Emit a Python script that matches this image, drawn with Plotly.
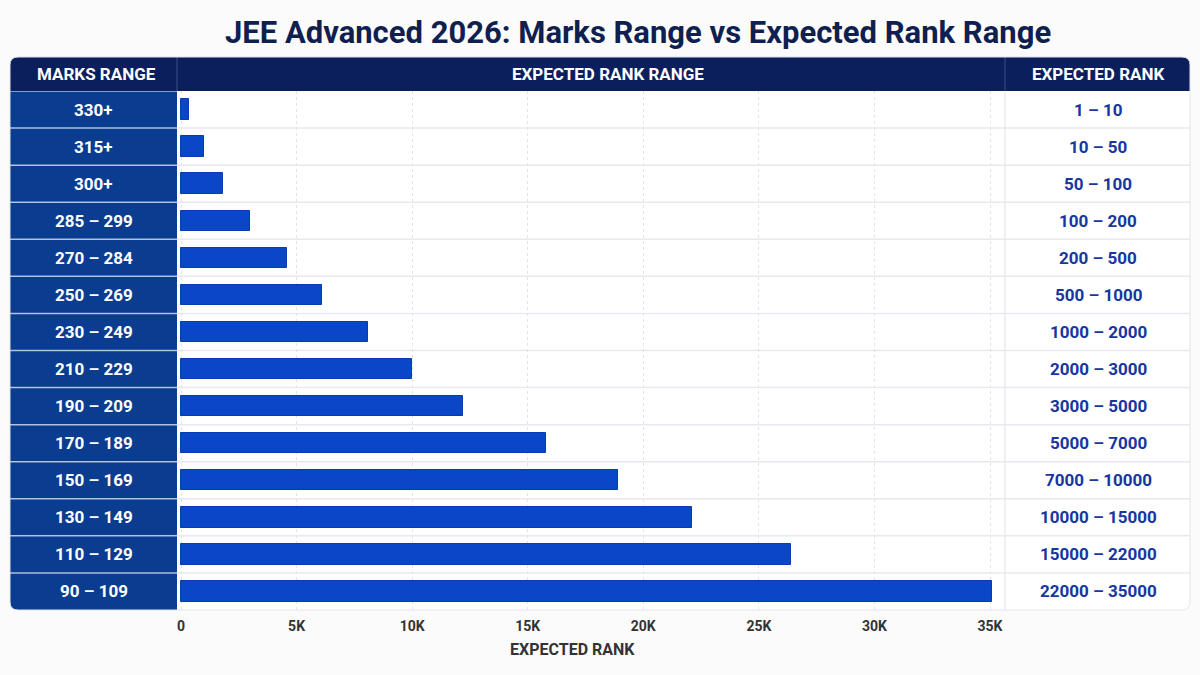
import plotly.graph_objects as go

# ---------------- data ----------------
marks_ranges = ["330+", "315+", "300+", "285 – 299", "270 – 284", "250 – 269", "230 – 249",
                "210 – 229", "190 – 209", "170 – 189", "150 – 169", "130 – 149", "110 – 129", "90 – 109"]
rank_ranges = ["1 – 10", "10 – 50", "50 – 100", "100 – 200", "200 – 500", "500 – 1000", "1000 – 2000",
               "2000 – 3000", "3000 – 5000", "5000 – 7000", "7000 – 10000", "10000 – 15000",
               "15000 – 22000", "22000 – 35000"]
bar_values = [350, 1000, 1800, 3000, 4600, 6100, 8100, 10000, 12200, 15800, 18900, 22100, 26400, 35100]
x_tick_values = [0, 5000, 10000, 15000, 20000, 25000, 30000, 35000]
x_tick_labels = ["0", "5K", "10K", "15K", "20K", "25K", "30K", "35K"]

title_text = "JEE Advanced 2026: Marks Range vs Expected Rank Range"
header_texts = ["MARKS RANGE", "EXPECTED RANK RANGE", "EXPECTED RANK"]
x_title = "EXPECTED RANK"

# ---------------- layout helpers ----------------
W, H = 1200, 675
def X(px):
    return px / W
def Y(py):
    return 1 - py / H

FONT = "Roboto, 'Open Sans', sans-serif"
BG = "#fbfbfc"
HEADER = "#0b1f5c"
LEFT = "#0a3d8f"
BAR = "#0a47c8"
RIGHT_TXT = "#1636a0"
GRID = "#e2e4ea"

n = len(marks_ranges)
L, M1, M2, R = 10, 177, 1005, 1190
TOP, HB, BOT = 57, 91, 610

fig = go.Figure()
fig.add_trace(go.Bar(
    x=bar_values, y=list(range(n)), orientation="h",
    marker=dict(color=BAR, line=dict(color="#083bb0", width=1)),
    width=0.55, hoverinfo="skip", showlegend=False,
))

shapes = []
# white container (below)
shapes.append(dict(type="rect", xref="paper", yref="paper", x0=X(L), x1=X(R), y0=Y(BOT), y1=Y(TOP),
                   fillcolor="white", line=dict(width=0), layer="below"))
# row separators middle + right
for i in range(n - 1):
    shapes.append(dict(type="line", xref="paper", yref="y", x0=X(M1), x1=X(R), y0=i + 0.5, y1=i + 0.5,
                       line=dict(color="#e8e9ef", width=1.5), layer="below"))
# vertical separator between middle and right column
shapes.append(dict(type="line", xref="paper", yref="paper", x0=X(M2), x1=X(M2), y0=Y(BOT), y1=Y(HB),
                   line=dict(color="#e6e7ec", width=1.2), layer="below"))
# header
shapes.append(dict(type="rect", xref="paper", yref="paper", x0=X(L), x1=X(R), y0=Y(HB), y1=Y(TOP),
                   fillcolor=HEADER, line=dict(width=0), layer="above"))
for xs in (M1, M2):
    shapes.append(dict(type="line", xref="paper", yref="paper", x0=X(xs), x1=X(xs), y0=Y(HB), y1=Y(TOP),
                       line=dict(color="#3a4f86", width=1), layer="above"))
# left column cells
for i in range(n):
    shapes.append(dict(type="rect", xref="paper", yref="y", x0=X(L), x1=X(M1), y0=i - 0.5, y1=i + 0.5,
                       fillcolor=LEFT, line=dict(width=0), layer="above"))
for i in range(n):
    shapes.append(dict(type="line", xref="paper", yref="y", x0=X(L), x1=X(M1), y0=i - 0.5, y1=i - 0.5,
                       line=dict(color="rgba(200,212,235,0.85)", width=1.5), layer="above"))

# rounded corner masks
r = 8
def corner_mask(cx, cy, sx, sy):
    p = (f"M {X(cx)},{Y(cy)} L {X(cx + sx * r)},{Y(cy)} "
         f"Q {X(cx)},{Y(cy)} {X(cx)},{Y(cy + sy * r)} Z")
    return dict(type="path", xref="paper", yref="paper", path=p, fillcolor=BG,
                line=dict(width=0), layer="above")
shapes.append(corner_mask(L, TOP, 1, 1))
shapes.append(corner_mask(R, TOP, -1, 1))
shapes.append(corner_mask(L, BOT, 1, -1))
shapes.append(corner_mask(R, BOT, -1, -1))
# container border (rounded)
border = (f"M {X(L + r)},{Y(TOP)} L {X(R - r)},{Y(TOP)} Q {X(R)},{Y(TOP)} {X(R)},{Y(TOP + r)} "
          f"L {X(R)},{Y(BOT - r)} Q {X(R)},{Y(BOT)} {X(R - r)},{Y(BOT)} "
          f"L {X(L + r)},{Y(BOT)} Q {X(L)},{Y(BOT)} {X(L)},{Y(BOT - r)} "
          f"L {X(L)},{Y(TOP + r)} Q {X(L)},{Y(TOP)} {X(L + r)},{Y(TOP)} Z")
shapes.append(dict(type="path", xref="paper", yref="paper", path=border,
                   line=dict(color="#e3e5ea", width=1), layer="above"))

annotations = []
annotations.append(dict(text=f"<b>{title_text}</b>", x=X(638), y=Y(32), xref="paper", yref="paper",
                        showarrow=False, xanchor="center", yanchor="middle",
                        font=dict(family=FONT, size=31, color="#0f1f4f")))
for txt, cx in zip(header_texts, [(L + M1) / 2 + 3, 608, (M2 + R) / 2]):
    annotations.append(dict(text=f"<b>{txt}</b>", x=X(cx), y=Y((TOP + HB) / 2), xref="paper", yref="paper",
                            showarrow=False, xanchor="center", yanchor="middle",
                            font=dict(family=FONT, size=17, color="white")))
for i, (m, rr) in enumerate(zip(marks_ranges, rank_ranges)):
    annotations.append(dict(text=f"<b>{m}</b>", x=X((L + M1) / 2), y=i, xref="paper", yref="y",
                            showarrow=False, xanchor="center", yanchor="middle",
                            font=dict(family=FONT, size=17, color="white")))
    annotations.append(dict(text=f"<b>{rr}</b>", x=X(1098), y=i, xref="paper", yref="y",
                            showarrow=False, xanchor="center", yanchor="middle",
                            font=dict(family=FONT, size=17, color=RIGHT_TXT)))
annotations.append(dict(text=f"<b>{x_title}</b>", x=X(572), y=Y(649), xref="paper", yref="paper",
                        showarrow=False, xanchor="center", yanchor="middle",
                        font=dict(family=FONT, size=16, color="#333333")))

px_per_unit = (990 - 181) / 35000.0
x_lo = -(181 - M1) / px_per_unit
x_hi = (M2 - 181) / px_per_unit

fig.update_layout(
    width=W, height=H, margin=dict(l=0, r=0, t=0, b=0),
    paper_bgcolor=BG, plot_bgcolor="rgba(0,0,0,0)",
    shapes=shapes, annotations=annotations, bargap=0,
    xaxis=dict(domain=[X(M1), X(M2)], range=[x_lo, x_hi], tickvals=x_tick_values, ticktext=x_tick_labels,
               showgrid=True, gridcolor=GRID, griddash="dot", gridwidth=1, zeroline=False, showline=False,
               ticks="", ticklabelstandoff=6,
               tickfont=dict(family=FONT, size=14, color="#333333", weight="bold"),
               fixedrange=True),
    yaxis=dict(domain=[Y(BOT), Y(HB)], range=[n - 0.5, -0.5], showticklabels=False, showgrid=False,
               zeroline=False, showline=False, ticks="", fixedrange=True),
)

fig.write_html("out.html")
